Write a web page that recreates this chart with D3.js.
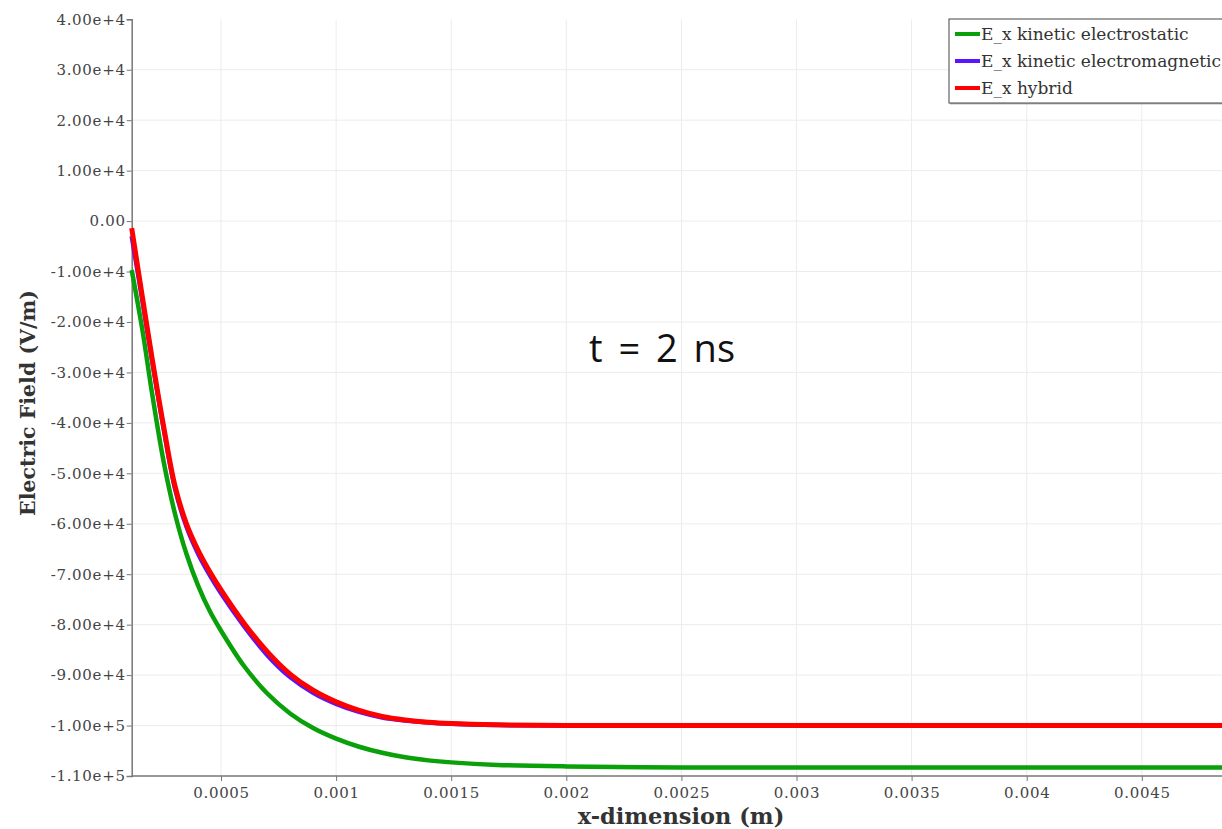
<!DOCTYPE html>
<html>
<head>
<meta charset="utf-8">
<script src="https://cdn.jsdelivr.net/npm/d3@7"></script>
<style>
  body { margin: 0; background: #fff; }
  #chart svg { display: block; }
</style>
</head>
<body>
<div id="chart"></div>
<script>
// x positions (m)
const xPos = [0.000112, 0.00016, 0.0002, 0.00025, 0.0003, 0.00035, 0.0004, 0.00045, 0.0005,
  0.0006, 0.0007, 0.0008, 0.0009, 0.001, 0.0011, 0.0012, 0.0013, 0.0014, 0.0015, 0.0017,
  0.002, 0.0025, 0.003, 0.0035, 0.004, 0.0045, 0.005];

// E_x in units of 1e4 V/m
const electrostatic = [-0.97, -2.2, -3.4, -4.75, -5.8, -6.6, -7.22, -7.72, -8.12,
  -8.82, -9.36, -9.76, -10.05, -10.26, -10.42, -10.54, -10.63, -10.69, -10.73, -10.78,
  -10.81, -10.83, -10.83, -10.83, -10.83, -10.83, -10.83];
const electromagnetic = [-0.3, -1.62, -2.75, -4.1, -5.3, -6.06, -6.59, -7.01, -7.38,
  -8.03, -8.6, -9.04, -9.35, -9.57, -9.73, -9.84, -9.9, -9.94, -9.965, -9.99,
  -10.0, -10.0, -10.0, -10.0, -10.0, -10.0, -10.0];
const hybrid = [-0.14, -1.55, -2.7, -4.05, -5.25, -6.0, -6.52, -6.94, -7.31,
  -7.97, -8.53, -8.98, -9.3, -9.53, -9.7, -9.82, -9.89, -9.935, -9.96, -9.985,
  -10.0, -10.0, -10.0, -10.0, -10.0, -10.0, -10.0];

const seriesNames = ["E_x kinetic electrostatic", "E_x kinetic electromagnetic", "E_x hybrid"];
const seriesColors = ["#0aa00a", "#5a14ff", "#ff0000"];

const xTicks = [0.0005, 0.001, 0.0015, 0.002, 0.0025, 0.003, 0.0035, 0.004, 0.0045];
const xTickLabels = ["0.0005", "0.001", "0.0015", "0.002", "0.0025", "0.003", "0.0035", "0.004", "0.0045"];
const yTicks = [4, 3, 2, 1, 0, -1, -2, -3, -4, -5, -6, -7, -8, -9, -10, -11];
const yTickLabels = ["4.00e+4", "3.00e+4", "2.00e+4", "1.00e+4", "0.00", "-1.00e+4", "-2.00e+4",
  "-3.00e+4", "-4.00e+4", "-5.00e+4", "-6.00e+4", "-7.00e+4", "-8.00e+4", "-9.00e+4",
  "-1.00e+5", "-1.10e+5"];

const W = 1222, H = 829;
const plotLeft = 131.7, plotTop = 19.3, plotBottom = 776;

const svg = d3.select("#chart").append("svg")
  .attr("width", W)
  .attr("height", H);

const x = d3.scaleLinear().domain([0.000112, 0.005]).range([plotLeft, 1256.9]);
const y = d3.scaleLinear().domain([-11, 4]).range([plotBottom, plotTop]);

const serif = "'DejaVu Serif', serif";

// grid
svg.append("g").selectAll("line")
  .data(xTicks)
  .join("line")
  .attr("x1", d => x(d)).attr("x2", d => x(d))
  .attr("y1", plotTop).attr("y2", plotBottom)
  .attr("stroke", "#ececec");
svg.append("g").selectAll("line")
  .data(yTicks.slice(1, -1))
  .join("line")
  .attr("x1", plotLeft).attr("x2", W)
  .attr("y1", d => y(d)).attr("y2", d => y(d))
  .attr("stroke", "#ececec");

// axes
const xAxis = svg.append("g")
  .attr("transform", `translate(0,${plotBottom})`)
  .call(d3.axisBottom(x).tickValues(xTicks).tickSize(5).tickPadding(6)
    .tickFormat((d, i) => xTickLabels[i]));
const yAxis = svg.append("g")
  .attr("transform", `translate(${plotLeft},0)`)
  .call(d3.axisLeft(y).tickValues(yTicks).tickSize(5).tickPadding(1)
    .tickFormat((d, i) => yTickLabels[i]));

[xAxis, yAxis].forEach(g => {
  g.select(".domain").attr("stroke", "#777").attr("stroke-width", 1.5);
  g.selectAll(".tick line").attr("stroke", "#777");
  g.selectAll(".tick text")
    .attr("fill", "#444")
    .style("font-family", serif)
    .style("font-size", "15px")
    .style("letter-spacing", "0.7px");
});
xAxis.select(".domain").attr("d", `M${plotLeft},0H${W}`);

// axis titles
svg.append("text")
  .attr("x", 681)
  .attr("y", 824)
  .attr("text-anchor", "middle")
  .style("font-family", serif)
  .style("font-weight", "bold")
  .style("font-size", "22.5px")
  .attr("fill", "#333")
  .text("x-dimension (m)");

svg.append("text")
  .attr("transform", "translate(35,403) rotate(-90)")
  .attr("text-anchor", "middle")
  .style("font-family", serif)
  .style("font-weight", "bold")
  .style("font-size", "20.5px")
  .attr("fill", "#333")
  .text("Electric Field (V/m)");

// lines
const plot = svg.append("g");
const line = d3.line()
  .x((d, i) => x(xPos[i]))
  .y(d => y(d))
  .curve(d3.curveCatmullRom.alpha(0.5));

[electrostatic, electromagnetic, hybrid].forEach((vals, k) => {
  plot.append("path")
    .datum(vals)
    .attr("fill", "none")
    .attr("stroke", seriesColors[k])
    .attr("stroke-width", k === 2 ? 5 : 4.5)
    .attr("d", line);
});

// annotation
svg.append("text")
  .attr("x", 662)
  .attr("y", 362)
  .attr("text-anchor", "middle")
  .style("font-family", "'Open Sans', sans-serif")
  .style("font-size", "38px")
  .style("word-spacing", "6px")
  .attr("fill", "#111")
  .text("t = 2 ns");

// legend
const legend = svg.append("g").attr("transform", "translate(949,19)");
legend.append("rect")
  .attr("x", 1).attr("y", 1.5)
  .attr("width", 300).attr("height", 84)
  .attr("fill", "#bbb");
legend.append("rect")
  .attr("x", 0).attr("y", 0)
  .attr("width", 300).attr("height", 84)
  .attr("fill", "#fff")
  .attr("stroke", "#444")
  .attr("stroke-width", 1);

seriesNames.forEach((name, i) => {
  const ly = 15 + i * 27;
  legend.append("line")
    .attr("x1", 6).attr("x2", 31)
    .attr("y1", ly).attr("y2", ly)
    .attr("stroke", seriesColors[i])
    .attr("stroke-width", 4);
  legend.append("text")
    .attr("x", 32)
    .attr("y", ly + 5.5)
    .style("font-family", serif)
    .style("font-size", "17px")
    .attr("fill", "#333")
    .text(name);
});
</script>
</body>
</html>
